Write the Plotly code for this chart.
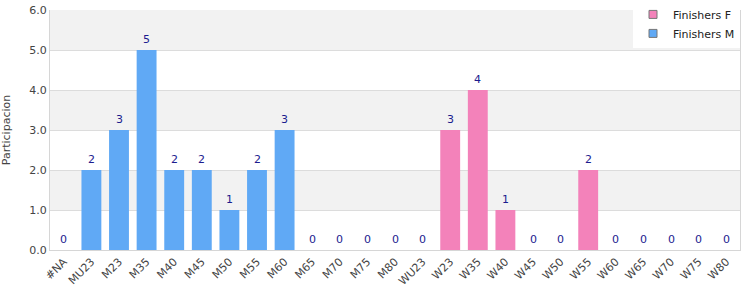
import plotly.graph_objects as go

categories = ["#NA", "MU23", "M23", "M35", "M40", "M45", "M50", "M55", "M60", "M65", "M70", "M75", "M80",
              "WU23", "W23", "W35", "W40", "W45", "W50", "W55", "W60", "W65", "W70", "W75", "W80"]
finishers_m = [0, 2, 3, 5, 2, 2, 1, 2, 3, 0, 0, 0, 0, 0, None, None, None, None, None, None, None, None, None, None, None]
finishers_f = [None] * 14 + [3, 4, 1, 0, 0, 2, 0, 0, 0, 0, 0]
y_ticks = [0, 1, 2, 3, 4, 5, 6]

color_f = "#f382ba"
color_m = "#60a9f5"
totals = [m if m is not None else f for m, f in zip(finishers_m, finishers_f)]

fig = go.Figure()
fig.add_trace(go.Bar(x=categories, y=finishers_f, name="Finishers F", marker_color=color_f,
                     marker_line_width=0, width=0.72, showlegend=False))
fig.add_trace(go.Bar(x=categories, y=finishers_m, name="Finishers M", marker_color=color_m,
                     marker_line_width=0, width=0.72, showlegend=False))
for name, col in [("Finishers F", color_f), ("Finishers M", color_m)]:
    fig.add_trace(go.Scatter(x=[None], y=[None], mode="markers", name=name,
                             marker=dict(symbol="square", size=8, color=col,
                                         line=dict(color="#777", width=1))))

annotations = [dict(x=c, y=v, xref="x", yref="y", text=str(v), showarrow=False, yanchor="bottom",
                    yshift=2, font=dict(color="#1c1c8f", size=11, family="DejaVu Sans"))
               for c, v in zip(categories, totals)]

shapes = []
for lo in [1, 3, 5]:
    shapes.append(dict(type="rect", xref="paper", yref="y", x0=0, x1=1, y0=lo, y1=lo + 1,
                       fillcolor="#f2f2f2", line_width=0, layer="below"))

fig.update_layout(
    width=750, height=300,
    margin=dict(l=50, r=10, t=10, b=50, autoexpand=False),
    plot_bgcolor="white", paper_bgcolor="white",
    barmode="overlay",
    font=dict(family="DejaVu Sans", size=11, color="#444"),
    shapes=shapes,
    annotations=annotations,
    showlegend=True,
    legend=dict(x=1.0, y=1.042, xanchor="right", yanchor="top",
                bgcolor="white", font=dict(size=11, color="#222"), traceorder="normal",
                itemwidth=30, tracegroupgap=0),
    xaxis=dict(type="category", tickangle=-45, showgrid=False, showline=True, linecolor="#d6d6d6",
               mirror=False, ticks="", tickfont=dict(size=11, color="#444"), range=[-0.5, 24.5]),
    yaxis=dict(range=[0, 6], tickvals=y_ticks, tickformat=".1f", showgrid=True, gridcolor="#dcdcdc",
               showline=True, linecolor="#d6d6d6", mirror=True, zeroline=False, ticks="",
               tickfont=dict(size=11, color="#444"),
               title=dict(text="Participacion", font=dict(size=11, color="#444"), standoff=18)),
)

fig.write_html("out.html")
